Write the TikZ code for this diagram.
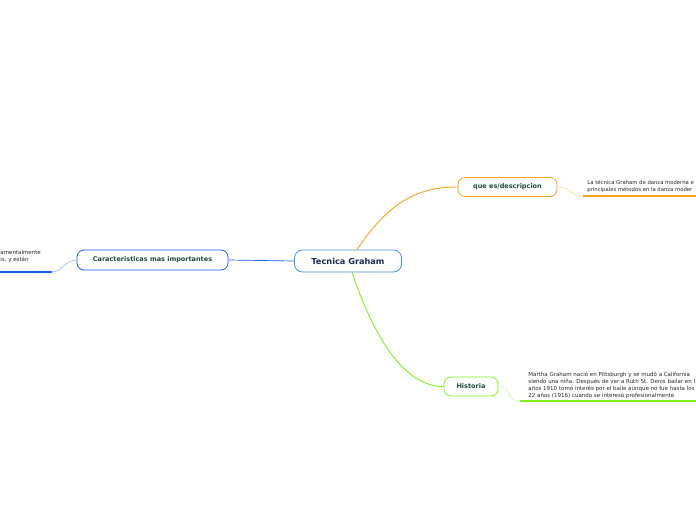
\documentclass[tikz,border=0pt]{standalone}
\usepackage{fontspec}
\setmainfont{DejaVu Sans}
\usetikzlibrary{positioning}
\definecolor{mainblue}{HTML}{4A90D9}
\definecolor{topicblue}{HTML}{1A5CF0}
\definecolor{topicorange}{HTML}{F7A21B}
\definecolor{topicgreen}{HTML}{80F020}
\definecolor{labelgreen}{HTML}{1E4A3A}
\definecolor{labelnavy}{HTML}{1B2A55}

\begin{document}
\begin{tikzpicture}[x=1pt, y=-1pt, >=stealth, thick]
        \tikzset{
            central/.style={draw=mainblue, fill=white, rectangle, rounded corners=8pt, minimum height=22pt, minimum width=107pt, font=\fontsize{8.2}{9}\selectfont\bfseries, text=labelnavy, line width=0.8pt},
            topic/.style={draw=#1, fill=white, rectangle, rounded corners=7pt, minimum height=19pt, font=\fontsize{6.5}{8}\selectfont\bfseries, text=labelgreen, line width=0.8pt},
            note/.style={font=\fontsize{5.5}{7}\selectfont, align=left, inner sep=0pt, text=black!85},
            branch/.style={draw=#1, line width=0.9pt},
            twig/.style={draw=#1!50, line width=0.5pt},
            underline/.style={draw=#1, line width=1.2pt}
        }
        \useasboundingbox (0,0) rectangle (696,520);

        % Central topic
        \node[central] (tg) at (348,261) {Tecnica Graham};

        % Main topics
        \node[topic=topicorange, minimum width=99pt] (desc) at (507.5,187) {que es/descripcion};
        \node[topic=topicblue, minimum width=151pt, minimum height=20pt] (carac) at (152.5,260) {Caracteristicas mas importantes};
        \node[topic=topicgreen, minimum width=54pt] (hist) at (471,386.5) {Historia};

        % Notes
        \node[note, anchor=north west, font=\fontsize{5.3}{7}\selectfont] (desctext) at (587,180) {La técnica Graham de danza moderna e\\principales métodos en la danza moder};
        \node[note, anchor=north west] (caractext) at (0,250) {amentalmente\\is, y están};
        \node[note, anchor=north west] (histtext) at (528,372) {Martha Graham nació en Pittsburgh y se mudó a California\\siendo una niña. Después de ver a Ruth St. Denis bailar en l\\años 1910 tomó interés por el baile aunque no fue hasta los\\22 años (1916) cuando se interesó profesionalmente};

        % Ends of the underlines
        \coordinate (descfoot) at (583,196);
        \coordinate (descend) at (696,196);
        \coordinate (caracfoot) at (52,272);
        \coordinate (caracend) at (0,272);
        \coordinate (histfoot) at (520,401);
        \coordinate (histend) at (696,401);

        % Branches from the central topic
        \draw[branch=topicorange] ([xshift=9pt]tg.north) .. controls (390,200) and (420,187) .. (desc.west);
        \draw[branch=topicblue, line width=0.7pt] (tg.west) -- (carac.east);
        \draw[branch=topicgreen] ([xshift=4pt]tg.south) .. controls (375,340) and (405,386.5) .. (hist.west);

        % Notes underlined
        \draw[twig=topicorange] (desc.east) .. controls (572,187) and (570,196) .. (descfoot);
        \draw[underline=topicorange] (descfoot) -- (descend);
        \draw[twig=topicblue] (carac.west) .. controls (65,260) and (62,272) .. (caracfoot);
        \draw[underline=topicblue] (caracfoot) -- (caracend);
        \draw[twig=topicgreen] (hist.east) .. controls (512,386.5) and (506,401) .. (histfoot);
        \draw[underline=topicgreen] (histfoot) -- (histend);

    \end{tikzpicture}
\end{document}
